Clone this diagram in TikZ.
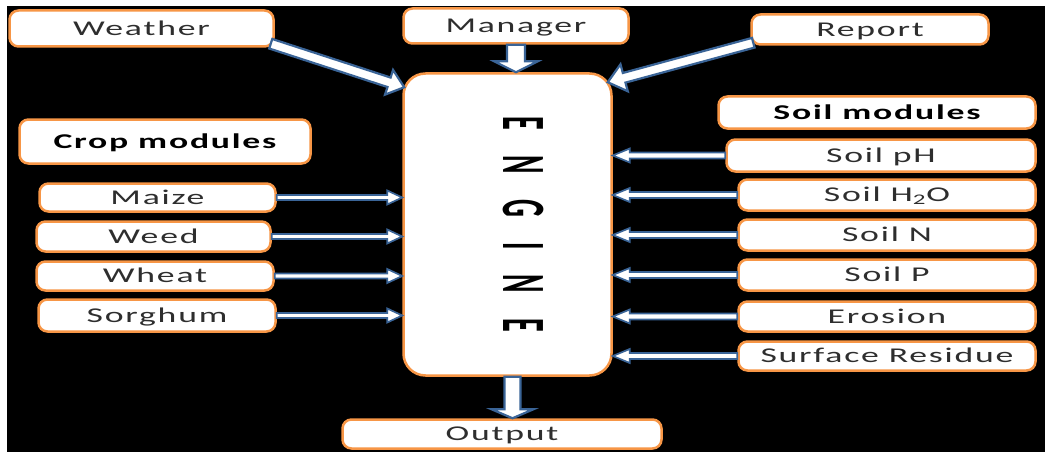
\documentclass[tikz,border=0pt]{standalone}
\usepackage{fontspec}
\setmainfont{Carlito}
\newfontfamily\boxfont{Carlito}[LetterSpace=5]
\usetikzlibrary{calc}

\definecolor{borange}{HTML}{F79646}
\definecolor{ablue}{HTML}{3A6497}
\definecolor{lblgray}{HTML}{2E2E2E}

% widened box labels
\newcommand\lbl[1]{\scalebox{1.7}[1]{#1}}
\newcommand\engsp{\hspace{0.9em}}

% hollow block arrow: [style]{from}{to}{half shaft}{half head}{head length}
\newcommand\blockarrow[6][]{%
  \coordinate (ba-h) at ($(#3)!#6!(#2)$);
  \draw[blockarrow,#1]
    ($(#2)!#4!90:(#3)$) -- ($(ba-h)!#4!90:(#3)$) -- ($(ba-h)!#5!90:(#3)$)
    -- (#3)
    -- ($(ba-h)!#5!-90:(#3)$) -- ($(ba-h)!#4!-90:(#3)$) -- ($(#2)!#4!-90:(#3)$)
    -- cycle;
}

\begin{document}
\begin{tikzpicture}[x=1pt,y=-1pt,
  shell/.style={draw=borange, line width=2.5pt, fill=white, rounded corners=9pt,
    inner sep=0pt},
  box/.style={shell, text=lblgray, font=\fontsize{21}{24}\boxfont,
    text height=13.5pt, text depth=0pt},
  headbox/.style={box, text=black, font=\fontsize{21}{24}\boxfont\bfseries},
  blockarrow/.style={draw=ablue, fill=white, line width=2.2pt, line join=miter},
  thinarrow/.style={blockarrow, line width=1.7pt}]

% canvas
\useasboundingbox (0,0) rectangle (1045,452);
\fill[white] (0,0) rectangle (1045,452);
\fill[black] (7,6) rectangle (1045,452);

% inputs on top
\node[box, minimum width=264pt, minimum height=36pt] (weather) at (141.5,28.5) {\lbl{Weather}};
\node[box, minimum width=225pt, minimum height=35pt] (manager) at (516,26) {\lbl{Manager}};
\node[box, minimum width=237pt, minimum height=30pt] (report) at (870,29.5) {\lbl{Report}};

% engine
\node[shell, text=black, rounded corners=22pt, minimum width=208pt, minimum height=302pt,
  font=\fontsize{28}{30}\selectfont\bfseries] (engine) at (507.5,224.5)
  {\hspace*{31pt}\scalebox{2.2}[1]{\rotatebox{-90}{E\engsp N\engsp G\engsp I\engsp N\engsp E}}};

% crop modules
\node[headbox, minimum width=291pt, minimum height=44pt] (crophead) at (165,141.5) {\lbl{Crop modules}};
\node[box, minimum width=236pt, minimum height=28pt] (maize) at (157.5,197.5) {\lbl{Maize}};
\node[box, minimum width=234pt, minimum height=30pt] (weed) at (153.5,236.5) {\lbl{Weed}};
\node[box, minimum width=237pt, minimum height=29pt] (wheat) at (155,276) {\lbl{Wheat}};
\node[box, minimum width=237pt, minimum height=32pt] (sorghum) at (157,315.5) {\lbl{Sorghum}};

% soil modules
\node[headbox, minimum width=317pt, minimum height=32pt] (soilhead) at (877,112.5) {\lbl{Soil modules}};
\node[box, minimum width=309pt, minimum height=32pt] (soilph) at (881,155.5) {\lbl{Soil pH}};
\node[box, minimum width=297pt, minimum height=31pt] (soilh2o) at (887,195) {\lbl{Soil H\textsubscript{2}O}};
\node[box, minimum width=297pt, minimum height=31pt] (soiln) at (887,235) {\lbl{Soil N}};
\node[box, minimum width=297pt, minimum height=31pt] (soilp) at (887,275) {\lbl{Soil P}};
\node[box, minimum width=297pt, minimum height=30pt] (erosion) at (887,316.5) {\lbl{Erosion}};
\node[box, minimum width=297pt, minimum height=29pt] (residue) at (887,356) {\lbl{Surface Residue}};

% output
\node[box, minimum width=319pt, minimum height=29pt] (output) at (502,434) {\lbl{Output}};

% arrows from the top inputs
\coordinate (w-tail) at ($(weather.south east)+(-4,-4)$);
\coordinate (w-tip) at ($(engine.north west)+(2,15)$);
\blockarrow{w-tail}{w-tip}{5pt}{13pt}{16pt}

\coordinate (m-tail) at (manager.south);
\coordinate (m-tip) at (manager.south |- engine.north);
\blockarrow{m-tail}{m-tip}{9pt}{22pt}{11pt}

\coordinate (r-tail) at ($(report.south west)+(3,-3)$);
\coordinate (r-tip) at ($(engine.north east)+(-5,10)$);
\blockarrow{r-tail}{r-tip}{5pt}{14pt}{17pt}

% crop modules feed the engine
\foreach \c in {maize,weed,wheat,sorghum}{
  \coordinate (\c-tip) at (engine.west |- \c.east);
  \blockarrow[thinarrow]{\c.east}{\c-tip}{2.5pt}{7pt}{15pt}
}

% soil modules feed the engine
\foreach \s in {soilph,soilh2o,soiln,soilp,erosion,residue}{
  \coordinate (\s-tip) at (engine.east |- \s.west);
  \blockarrow[thinarrow]{\s.west}{\s-tip}{3pt}{7pt}{17pt}
}

% engine to output
\coordinate (o-tail) at ($(engine.south)+(5,0)$);
\coordinate (o-tip) at (o-tail |- output.north);
\blockarrow{o-tail}{o-tip}{8pt}{21pt}{9pt}

\end{tikzpicture}
\end{document}
